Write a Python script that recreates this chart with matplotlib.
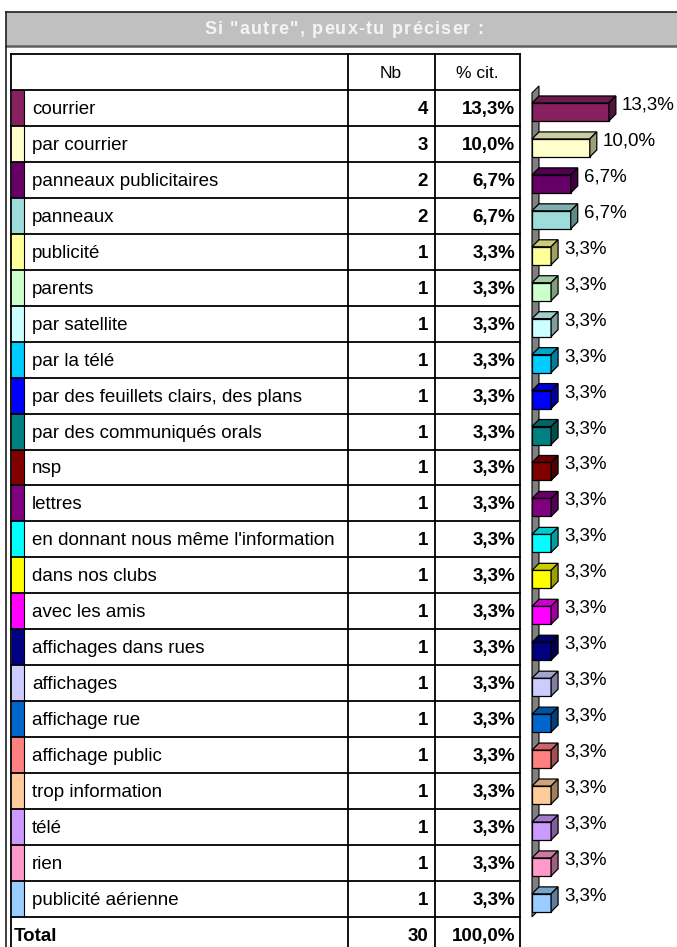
import matplotlib
matplotlib.use("Agg")
import matplotlib.pyplot as plt
from matplotlib.patches import Polygon, Rectangle
from matplotlib.colors import to_rgb

TITRE = 'Si "autre", peux-tu préciser :'

categories = [
    "courrier", "par courrier", "panneaux publicitaires", "panneaux",
    "publicité", "parents", "par satellite", "par la télé",
    "par des feuillets clairs, des plans", "par des communiqués orals",
    "nsp", "lettres", "en donnant nous même l'information",
    "dans nos clubs", "avec les amis", "affichages dans rues",
    "affichages", "affichage rue", "affichage public",
    "trop information", "télé", "rien", "publicité aérienne",
]
nb = [4, 3, 2, 2, 1, 1, 1, 1, 1, 1, 1, 1, 1, 1, 1, 1, 1, 1, 1, 1, 1, 1, 1]
pct = [13.3, 10.0, 6.7, 6.7, 3.3, 3.3, 3.3, 3.3, 3.3, 3.3, 3.3, 3.3,
       3.3, 3.3, 3.3, 3.3, 3.3, 3.3, 3.3, 3.3, 3.3, 3.3, 3.3]
couleurs = [
    "#86205F", "#FFFFCC", "#660066", "#9EDCDC", "#FFFF99", "#CCFFCC",
    "#CCFFFF", "#00CCFF", "#0000FF", "#008080", "#800000", "#800080",
    "#00FFFF", "#FFFF00", "#FF00FF", "#000080", "#CCCCFF", "#0066CC",
    "#FF8080", "#FFCC99", "#CC99FF", "#FF99CC", "#99CCFF",
]
total_nb = 30
total_pct = 100.0

W, H = 677, 947
ROW_H = 35.95
TOP_ROW = 90.0
COL_X = [11, 348, 435, 520]
FS = 13.5
DY_TXT = 1.5  # petit decalage vertical du texte dans les lignes


def fmt(v):
    return f"{v:.1f}".replace(".", ",") + "%"


def shade(c, k):
    r, g, b = to_rgb(c)
    return (r * k, g * k, b * k)


plt.rcParams["font.family"] = ["Liberation Sans", "DejaVu Sans"]
fig = plt.figure(figsize=(W / 100, H / 100), dpi=100)

# --- cadre + tableau en coordonnees pixel
ax = fig.add_axes([0, 0, 1, 1])
ax.set_xlim(0, W)
ax.set_ylim(H, 0)
ax.axis("off")

ax.add_patch(Rectangle((5.7, 12.3), W, 34.4, facecolor="#C0C0C0",
                       edgecolor="none"))
ax.plot([5.7, W], [12.3, 12.3], color="#202020", lw=1.2)
ax.plot([5.7, W], [46.3, 46.3], color="#606060", lw=1.8)
ax.plot([5.7, 5.7], [12.3, H], color="#202020", lw=1.2)

# titre avec espacement des lettres
renderer = fig.canvas.get_renderer()
TFS = 13
SPACING = 1.2
tmp = ax.text(0, 0, TITRE, fontsize=TFS, fontweight="bold")
base_w = tmp.get_window_extent(renderer).width
tmp.remove()
total_w = base_w + SPACING * (len(TITRE) - 1)
x_start = 344 - total_w / 2
for k, ch in enumerate(TITRE):
    if k > 0:
        t = ax.text(0, 0, TITRE[:k], fontsize=TFS, fontweight="bold")
        pw = t.get_window_extent(renderer).width
        t.remove()
    else:
        pw = 0
    ax.text(x_start + pw + SPACING * k, 29.5, ch, color="#F4F4F4",
            fontsize=TFS, fontweight="bold", ha="left", va="center")

n = len(categories)
y_bottom = TOP_ROW + (n + 1) * ROW_H
ax.plot([COL_X[0], COL_X[-1]], [54, 54], color="black", lw=1.3)
for i in range(n + 2):
    y = TOP_ROW + i * ROW_H
    ax.plot([COL_X[0], COL_X[-1]], [y, y], color="black", lw=1.3)
for x in COL_X:
    ax.plot([x, x], [54, y_bottom], color="black", lw=1.3)

ax.text(391, 72 + DY_TXT, "Nb", fontsize=FS - 1, ha="center", va="center")
ax.text(477, 72 + DY_TXT, "% cit.", fontsize=FS - 1, ha="center",
        va="center")

for i, (cat, c) in enumerate(zip(categories, couleurs)):
    y0 = TOP_ROW + i * ROW_H
    yc = y0 + ROW_H / 2 + DY_TXT
    ax.add_patch(Rectangle((12, y0), 12, ROW_H, facecolor=c,
                           edgecolor="none"))
    ax.plot([24, 24], [y0, y0 + ROW_H], color="black", lw=0.8)
    ax.text(32, yc, cat, fontsize=FS, va="center", ha="left")
    ax.text(428, yc, str(nb[i]), fontsize=FS, fontweight="bold",
            va="center", ha="right")
    ax.text(515, yc, fmt(pct[i]), fontsize=FS, fontweight="bold",
            va="center", ha="right")

yt = TOP_ROW + n * ROW_H + ROW_H / 2 + DY_TXT
ax.text(14, yt, "Total", fontsize=FS, fontweight="bold", va="center")
ax.text(428, yt, str(total_nb), fontsize=FS, fontweight="bold",
        va="center", ha="right")
ax.text(515, yt, fmt(total_pct), fontsize=FS, fontweight="bold",
        va="center", ha="right")

# --- barres 3D
PX_PER_PCT = 5.78
bx0, bx1 = 532, W
ay0, ay1 = TOP_ROW, TOP_ROW + n * ROW_H
bax = fig.add_axes([bx0 / W, 1 - ay1 / H, (bx1 - bx0) / W, (ay1 - ay0) / H])
bax.set_xlim(0, (bx1 - bx0) / PX_PER_PCT)
bax.set_ylim(n - 0.5, -0.5)
bax.axis("off")

dx = 7 / PX_PER_PCT
dy = 7 / ROW_H
bh = 18 / ROW_H
off = 4 / ROW_H

wall_top = -0.42
wall_bot = n - 0.5
bax.add_patch(Polygon([(0, wall_top), (0, wall_bot), (dx, wall_bot - dy),
                       (dx, wall_top - dy)], closed=True,
                      facecolor="#808080", edgecolor="black", lw=0.8,
                      clip_on=False, zorder=1))

ypos = [i + off for i in range(n)]
bax.barh(ypos, pct, height=bh, left=0, color=couleurs, edgecolor="black",
         linewidth=0.9, zorder=3)
for y, v, c in zip(ypos, pct, couleurs):
    t = y - bh / 2
    b = y + bh / 2
    bax.add_patch(Polygon([(0, t), (v, t), (v + dx, t - dy), (dx, t - dy)],
                          closed=True, facecolor=shade(c, 0.8),
                          edgecolor="black", lw=0.9, zorder=3,
                          clip_on=False))
    bax.add_patch(Polygon([(v, t), (v, b), (v + dx, b - dy), (v + dx, t - dy)],
                          closed=True, facecolor=shade(c, 0.62),
                          edgecolor="black", lw=0.9, zorder=3,
                          clip_on=False))
    bax.text(v + dx + 6 / PX_PER_PCT, y - dy, fmt(v), fontsize=FS,
             va="center", ha="left", clip_on=False)

fig.savefig("out.png", dpi=100)
